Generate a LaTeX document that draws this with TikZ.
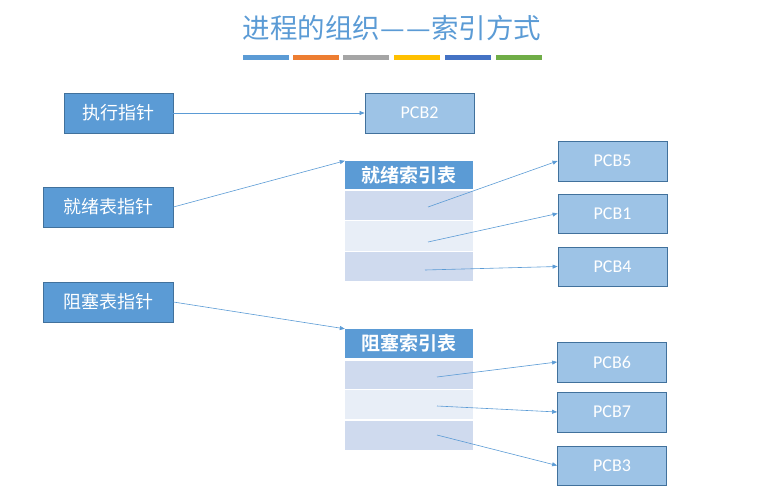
\documentclass[tikz,border=0pt]{standalone}
\usepackage{fontspec}
\setmainfont{Carlito}
\newfontfamily\cjk{Noto Sans CJK SC}[BoldFont={Noto Sans CJK SC Bold}]
\usetikzlibrary{arrows.meta}
\definecolor{accblue}{HTML}{5B9BD5}
\definecolor{accorange}{HTML}{ED7D31}
\definecolor{accgray}{HTML}{A5A5A5}
\definecolor{accyellow}{HTML}{FFC000}
\definecolor{accdblue}{HTML}{4472C4}
\definecolor{accgreen}{HTML}{70AD47}
\definecolor{edgeblue}{HTML}{41719C}
\definecolor{pcbfill}{HTML}{9DC3E6}
\definecolor{rowdark}{HTML}{CFDAEE}
\definecolor{rowlight}{HTML}{E8EEF7}
\definecolor{titleblue}{HTML}{5B9BD5}
\begin{document}
\begin{tikzpicture}[x=1pt,y=-1pt,
  ptrbox/.style={draw=edgeblue,line width=0.8pt,fill=accblue,text=white,
    minimum width=#1,minimum height=40pt,inner sep=0pt,font=\cjk\fontsize{18}{20}\selectfont},
  pcbbox/.style={draw=edgeblue,line width=0.8pt,fill=pcbfill,text=white,
    minimum width=109pt,minimum height=#1,inner sep=0pt,font=\fontsize{18}{20}\selectfont},
  pcbbox/.default=40pt,
  headbox/.style={fill=accblue,text=white,minimum width=128pt,minimum height=#1,
    inner sep=0pt,font=\cjk\bfseries\fontsize{19}{21}\selectfont},
  rowbox/.style={fill=#1,minimum width=128pt,minimum height=29pt,inner sep=0pt},
  link/.style={draw=accblue,line width=0.6pt,-{Triangle[length=5pt,width=4pt]}}]
\useasboundingbox (0,0) rectangle (757,495);

% title and colour strip
\node[text=titleblue,font=\cjk\fontsize{27.5}{30}\selectfont] (title) at (392,28) {进程的组织—\kern1.5pt—索引方式};
\foreach \x/\c in {243/accblue,293/accorange,343/accgray,394/accyellow,445/accdblue,496/accgreen}
  \fill[\c] (\x,55.5) rectangle ++(46,5);

% pointers
\node[ptrbox=109pt] (run) at (118.5,113) {执行指针};
\node[ptrbox=130pt] (ready) at (108,207) {就绪表指针};
\node[ptrbox=130pt] (block) at (108,302) {阻塞表指针};

\node[pcbbox] (pcb2) at (419.5,113) {PCB2};

% ready index table
\node[headbox=28pt] (h1) at (409,175) {就绪索引表};
\node[rowbox=rowdark]  (r1) at (409,205.5) {};
\node[rowbox=rowlight,minimum height=30pt] (r2) at (409,236) {};
\node[rowbox=rowdark]  (r3) at (409,266.5) {};

% blocked index table
\node[headbox=29pt] (h2) at (409,343.5) {阻塞索引表};
\node[rowbox=rowdark,minimum height=28pt] (b1) at (409,375) {};
\node[rowbox=rowlight] (b2) at (409,404.5) {};
\node[rowbox=rowdark]  (b3) at (409,435.5) {};

% process control blocks
\node[pcbbox] (pcb5) at (612.5,161) {PCB5};
\node[pcbbox=39pt] (pcb1) at (612.5,213.5) {PCB1};
\node[pcbbox=39pt] (pcb4) at (612.5,266.5) {PCB4};
\node[pcbbox] (pcb6) at (612,362) {PCB6};
\node[pcbbox] (pcb7) at (612,412) {PCB7};
\node[pcbbox=39pt] (pcb3) at (612,465.5) {PCB3};

% entry points inside the table rows
\coordinate (s1) at (428,207);
\coordinate (s2) at (428,242);
\coordinate (s3) at (425,270);
\coordinate (s4) at (437,377);
\coordinate (s5) at (437,406);
\coordinate (s6) at (437,435);

% connectors
\draw[link] (run.east) -- (pcb2.west);
\draw[link] (ready.east) -- (h1.north west);
\draw[link] (block.east) -- (h2.north west);
\draw[link] (s1) -- (pcb5.west);
\draw[link] (s2) -- (pcb1.west);
\draw[link] (s3) -- (pcb4.west);
\draw[link] (s4) -- (pcb6.west);
\draw[link] (s5) -- (pcb7.west);
\draw[link] (s6) -- (pcb3.west);
\end{tikzpicture}
\end{document}
